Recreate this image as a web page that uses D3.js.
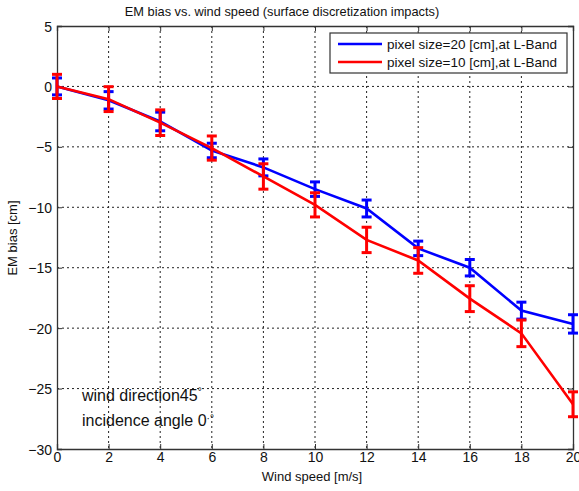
<!DOCTYPE html>
<html><head><meta charset="utf-8">
<script src="https://cdn.jsdelivr.net/npm/d3@7"></script>
<style>body{margin:0;background:#fff}svg{display:block;font-family:"Liberation Sans",Arial,sans-serif}</style>
</head><body><svg id="c" width="579" height="491"></svg>
<script>
const windSpeed = [0,2,4,6,8,10,12,14,16,18,20];
const blueMean = [0,-1.15,-2.9,-5.3,-6.7,-8.5,-10.1,-13.4,-15.0,-18.55,-19.65];
const blueErr  = [0.7,0.72,0.77,0.6,0.7,0.6,0.7,0.6,0.68,0.7,0.76];
const redMean  = [0,-1.05,-3.0,-5.1,-7.45,-9.8,-12.7,-14.4,-17.56,-20.43,-26.3];
const redErr   = [1.0,1.03,1.06,1.0,1.05,1.0,1.05,1.06,1.07,1.1,1.03];
const xTicks = [0,2,4,6,8,10,12,14,16,18,20];
const yTicks = [5,0,-5,-10,-15,-20,-25,-30];
const seriesNames = ["pixel size=20 [cm],at L-Band","pixel size=10 [cm],at L-Band"];
const seriesColors = ["#0000ff","#ff0000"];

const svg = d3.select("#c");
const L=57,R=573,T=26,B=449;
const x = d3.scaleLinear().domain([0,20]).range([L,R]);
const y = d3.scaleLinear().domain([-30,5]).range([B,T]);

// grid
const g = svg.append("g");
g.selectAll(".gx").data(xTicks.slice(1,-1)).enter().append("line")
 .attr("x1",d=>x(d)).attr("x2",d=>x(d)).attr("y1",T).attr("y2",B)
 .attr("stroke","#222").attr("stroke-width",1).attr("stroke-dasharray","2,3");
g.selectAll(".gy").data(yTicks.slice(1,-1)).enter().append("line")
 .attr("y1",d=>y(d)).attr("y2",d=>y(d)).attr("x1",L).attr("x2",R)
 .attr("stroke","#222").attr("stroke-width",1).attr("stroke-dasharray","2,3");

// axes
const xa = svg.append("g").attr("transform",`translate(0,${B})`)
 .call(d3.axisBottom(x).tickValues(xTicks).tickSize(-5).tickPadding(3).tickFormat(d3.format("d")));
const xt = svg.append("g").attr("transform",`translate(0,${T})`)
 .call(d3.axisTop(x).tickValues(xTicks).tickSize(-5).tickFormat(""));
const ya = svg.append("g").attr("transform",`translate(${L},0)`)
 .call(d3.axisLeft(y).tickValues(yTicks).tickSize(-5).tickPadding(5).tickFormat(d3.format("d")));
const yr = svg.append("g").attr("transform",`translate(${R},0)`)
 .call(d3.axisRight(y).tickValues(yTicks).tickSize(-5).tickFormat(""));
[xa,xt,ya,yr].forEach(a=>{
  a.select(".domain").attr("stroke","#333").attr("stroke-width",1.3);
  a.selectAll(".tick line").attr("stroke","#333");
  a.selectAll("text").attr("font-size",14).attr("fill","#111").attr("font-family","Liberation Sans, Arial, sans-serif");
});
ya.selectAll("text").attr("dy","0.36em");

// series
const series = [
 {m:blueMean,e:blueErr,c:seriesColors[0]},
 {m:redMean,e:redErr,c:seriesColors[1]}
];
const line = d3.line().x((d,i)=>x(windSpeed[i])).y(d=>y(d));
const cw = 5;
series.forEach(s=>{
  const sg = svg.append("g");
  sg.append("path").datum(s.m).attr("d",line).attr("fill","none").attr("stroke",s.c).attr("stroke-width",2.6);
  const eb = sg.selectAll(".eb").data(s.m).enter().append("g");
  eb.append("line").attr("x1",(d,i)=>x(windSpeed[i])).attr("x2",(d,i)=>x(windSpeed[i]))
    .attr("y1",(d,i)=>y(d+s.e[i])).attr("y2",(d,i)=>y(d-s.e[i])).attr("stroke",s.c).attr("stroke-width",3);
  eb.append("line").attr("x1",(d,i)=>x(windSpeed[i])-cw).attr("x2",(d,i)=>x(windSpeed[i])+cw)
    .attr("y1",(d,i)=>y(d+s.e[i])).attr("y2",(d,i)=>y(d+s.e[i])).attr("stroke",s.c).attr("stroke-width",3);
  eb.append("line").attr("x1",(d,i)=>x(windSpeed[i])-cw).attr("x2",(d,i)=>x(windSpeed[i])+cw)
    .attr("y1",(d,i)=>y(d-s.e[i])).attr("y2",(d,i)=>y(d-s.e[i])).attr("stroke",s.c).attr("stroke-width",3);
});

// legend
const lg = svg.append("g");
lg.append("rect").attr("x",330).attr("y",33).attr("width",237).attr("height",40)
  .attr("fill","#fff").attr("stroke","#333").attr("stroke-width",1.2);
seriesNames.forEach((n,i)=>{
  const yy = 44 + i*18;
  lg.append("line").attr("x1",338).attr("x2",382).attr("y1",yy).attr("y2",yy).attr("stroke",seriesColors[i]).attr("stroke-width",2.6);
  lg.append("text").attr("x",387).attr("y",yy).attr("dy","0.36em").attr("font-size",13.5).attr("fill","#111").text(n);
});

// title & labels
svg.append("text").attr("x",282).attr("y",16).attr("text-anchor","middle").attr("font-size",12.8).attr("fill","#111")
 .text("EM bias vs. wind speed (surface discretization impacts)");
svg.append("text").attr("x",312).attr("y",481).attr("text-anchor","middle").attr("font-size",13).attr("fill","#111")
 .text("Wind speed [m/s]");
svg.append("text").attr("transform","translate(17,238) rotate(-90)").attr("text-anchor","middle").attr("font-size",13).attr("fill","#111")
 .text("EM bias [cm]");

// annotations
const a1 = svg.append("text").attr("x",82).attr("y",401).attr("font-size",16).attr("fill","#111");
a1.append("tspan").text("wind direction45");
a1.append("tspan").attr("dy",-6).attr("font-size",10).text("\u00B0");
const a2 = svg.append("text").attr("x",82).attr("y",426).attr("font-size",16).attr("fill","#111");
a2.append("tspan").text("incidence angle 0");
a2.append("tspan").attr("dy",-4).attr("font-size",10).text("\u00B7\u00B0");
</script></body></html>
